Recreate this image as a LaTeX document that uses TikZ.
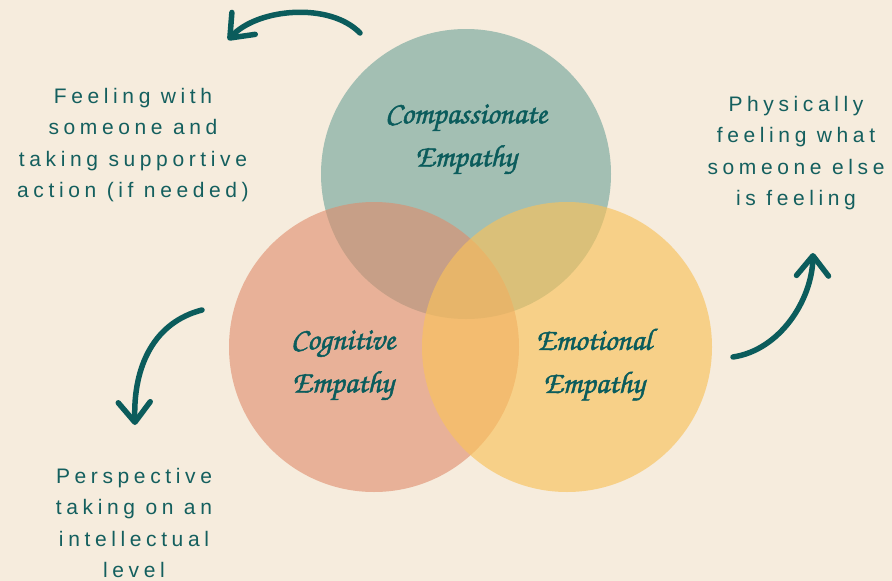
\documentclass[tikz,border=0pt]{standalone}
\usepackage[T1]{fontenc}
\usepackage{fontspec}
\usetikzlibrary{arrows.meta}
\newfontfamily\notefont[LetterSpace=22]{Liberation Sans}
\newcommand{\brush}{\fontencoding{T1}\fontfamily{pzc}\fontseries{mb}\fontshape{it}\selectfont}
\newcommand{\inked}[1]{\special{pdf:literal direct 2 Tr 0.5 w}#1\special{pdf:literal direct 0 Tr}}
\definecolor{cream}{HTML}{F6ECDD}
\definecolor{sage}{RGB}{108,161,151}
\definecolor{peach}{RGB}{223,139,106}
\definecolor{sun}{RGB}{249,194,91}
\definecolor{ink}{HTML}{145F5E}
\definecolor{quill}{HTML}{0B5C5C}

\begin{document}
\begin{tikzpicture}[x=1pt, y=-1pt,
  bubble/.style={circle, minimum size=290pt, inner sep=0pt, fill opacity=.6},
  tag/.style={text=quill, align=center, inner sep=0pt, font=\brush\fontsize{31}{43}\selectfont},
  note/.style={text=ink, align=center, inner sep=0pt, font=\notefont\fontsize{21}{31.5}\selectfont},
  curl/.style={draw=quill, line width=5.5pt, line cap=round, -{Straight Barb[length=20pt, width=32pt, round]}}]

\useasboundingbox (0,0) rectangle (892,581);
\fill[cream] (0,0) rectangle (892,581);

\node[bubble, fill=sage]  (compassionate) at (466,174) {};
\node[bubble, fill=peach] (cognitive)     at (374,347) {};
\node[bubble, fill=sun, fill opacity=.65] (emotional) at (567,347) {};

\node[tag] (compassionate-text) at (466,140) {\inked{Compassionate}\\\inked{Empathy}};
\node[tag] (cognitive-text)     at (343,366) {\inked{Cognitive}\\\inked{Empathy}};
\node[tag] (emotional-text)     at (594,365) {\inked{Emotional}\\\inked{Empathy}};

\node[note] (with)        at (133,145) {Feeling with\\someone and\\taking supportive\\action (if needed)};
\node[note] (physical)    at (796,153) {Physically\\feeling what\\someone else\\is feeling};
\node[note] (perspective) at (134,523) {Perspective\\taking on an\\intellectual\\level};

\coordinate (top-from)   at (360,33);
\coordinate (top-to)     at (228,40);
\coordinate (left-from)  at (202,310);
\coordinate (left-to)    at (135,425);
\coordinate (right-from) at (733,357);
\coordinate (right-to)   at (813,253);

\draw[curl] (top-from) .. controls (330,2) and (258,8) .. (top-to);
\draw[curl] (left-from) .. controls (155,322) and (133,365) .. (left-to);
\draw[curl] (right-from) .. controls (780,350) and (812,300) .. (right-to);

\end{tikzpicture}
\end{document}
